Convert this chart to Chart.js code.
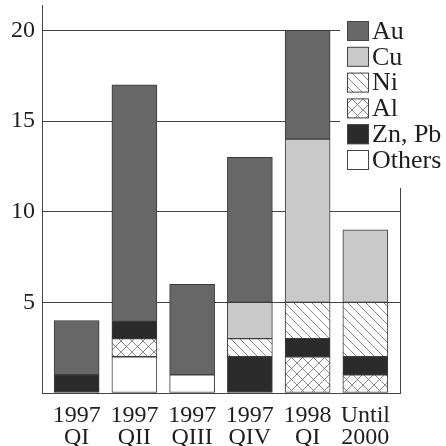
<!DOCTYPE html>
<html>
<head>
<meta charset="utf-8">
<script src="https://cdn.jsdelivr.net/npm/chart.js@4"></script>
<style>
  html, body { margin: 0; padding: 0; background: #fff; }
  #wrap { width: 446px; height: 446px; }
</style>
</head>
<body>
<div id="wrap"><canvas id="myChart" width="446" height="446"></canvas></div>
<script>
// categories (two-line labels)
const periods = [
  ["1997", "QI"], ["1997", "QII"], ["1997", "QIII"],
  ["1997", "QIV"], ["1998", "QI"], ["Until", "2000"]
];
// series values, bottom of the stack first
const others = [0, 2, 1, 0, 0, 0];
const al     = [0, 1, 0, 0, 2, 1];
const znPb   = [1, 1, 0, 2, 1, 1];
const ni     = [0, 0, 0, 1, 2, 3];
const cu     = [0, 0, 0, 2, 9, 4];
const au     = [3, 13, 5, 8, 6, 0];
const yTicks = [0, 5, 10, 15, 20];

const FONT = "'Liberation Serif', 'DejaVu Serif', serif";
const ctx = document.getElementById("myChart").getContext("2d");

// hatch patterns
function hatch(cross) {
  const c = document.createElement("canvas");
  const s = cross ? 11 : 9;
  c.width = s; c.height = s;
  const g = c.getContext("2d");
  g.fillStyle = "#fff";
  g.fillRect(0, 0, s, s);
  g.strokeStyle = "#6a6a6a";
  g.lineWidth = 0.8;
  g.beginPath();
  g.moveTo(-1, -1); g.lineTo(s + 1, s + 1);
  g.moveTo(-1, s - 1); g.lineTo(1, s + 1);
  g.moveTo(s - 1, -1); g.lineTo(s + 1, 1);
  if (cross) {
    g.moveTo(-1, s + 1); g.lineTo(s + 1, -1);
    g.moveTo(-1, 1); g.lineTo(1, -1);
    g.moveTo(s - 1, s + 1); g.lineTo(s + 1, s - 1);
  }
  g.stroke();
  return ctx.createPattern(c, "repeat");
}
const niFill = hatch(false);
const alFill = hatch(true);

const series = [
  { label: "Others", data: others, fill: "#ffffff" },
  { label: "Al", data: al, fill: alFill },
  { label: "Zn, Pb", data: znPb, fill: "#2b2b2b" },
  { label: "Ni", data: ni, fill: niFill },
  { label: "Cu", data: cu, fill: "#c9c9c9" },
  { label: "Au", data: au, fill: "#676767" }
];
const legendOrder = ["Au", "Cu", "Ni", "Al", "Zn, Pb", "Others"];

// legend drawn inside the plot, on a white patch that hides the grid there
const legendPlugin = {
  id: "boxLegend",
  afterDatasetsDraw(chart) {
    const c = chart.ctx;
    const area = chart.chartArea;
    c.save();
    c.fillStyle = "#fff";
    c.fillRect(340, 0, 106, 188);
    // right frame line, below the legend
    c.strokeStyle = "#444";
    c.lineWidth = 1;
    c.beginPath();
    c.moveTo(area.right + 0.5, 188);
    c.lineTo(area.right + 0.5, area.bottom);
    c.stroke();
    c.font = "26px " + FONT;
    c.textBaseline = "middle";
    legendOrder.forEach((name, i) => {
      const s = series.find(d => d.label === name);
      const y = 21 + i * 25.8;
      c.fillStyle = s.fill;
      c.fillRect(347, y, 22, 20);
      c.strokeStyle = "#444";
      c.strokeRect(347.5, y + 0.5, 21, 19);
      c.fillStyle = "#1e1e1e";
      c.fillText(name, 372, y + 11);
    });
    c.restore();
  }
};

new Chart(ctx, {
  type: "bar",
  data: {
    datasets: series.map(s => ({
      label: s.label,
      data: s.data.map((v, i) => ({ x: i, y: v })),
      backgroundColor: s.fill,
      borderColor: "#3a3a3a",
      borderWidth: 1,
      borderSkipped: false,
      barThickness: 45
    }))
  },
  options: {
    responsive: false,
    animation: false,
    events: [],
    layout: { padding: { top: 5, right: 46, left: 0, bottom: 0 } },
    plugins: {
      legend: { display: false },
      tooltip: { enabled: false }
    },
    scales: {
      x: {
        type: "linear",
        stacked: true,
        offset: false,
        min: -0.6,
        max: 5.6,
        afterBuildTicks: sc => { sc.ticks = periods.map((p, i) => ({ value: i })); },
        afterFit: sc => { sc.height = 53; sc.paddingLeft = 0; sc.paddingRight = 0; },
        grid: { display: false },
        border: { display: true, color: "#444", width: 1 },
        ticks: {
          callback: v => periods[v],
          autoSkip: false,
          maxRotation: 0,
          padding: 3,
          color: "#1e1e1e",
          font: { family: FONT, size: 24, lineHeight: 0.95 }
        }
      },
      y: {
        stacked: true,
        min: 0,
        max: 21.4,
        afterBuildTicks: sc => { sc.ticks = yTicks.map(v => ({ value: v })); },
        afterFit: sc => { sc.width = 42; sc.paddingTop = 0; sc.paddingBottom = 0; },
        grid: { color: "#444", lineWidth: 1, drawTicks: false },
        border: { display: true, color: "#444", width: 1 },
        ticks: {
          callback: v => (v === 0 ? "" : v),
          padding: 7,
          color: "#1e1e1e",
          font: { family: FONT, size: 24 }
        }
      }
    }
  },
  plugins: [legendPlugin]
});
</script>
</body>
</html>
